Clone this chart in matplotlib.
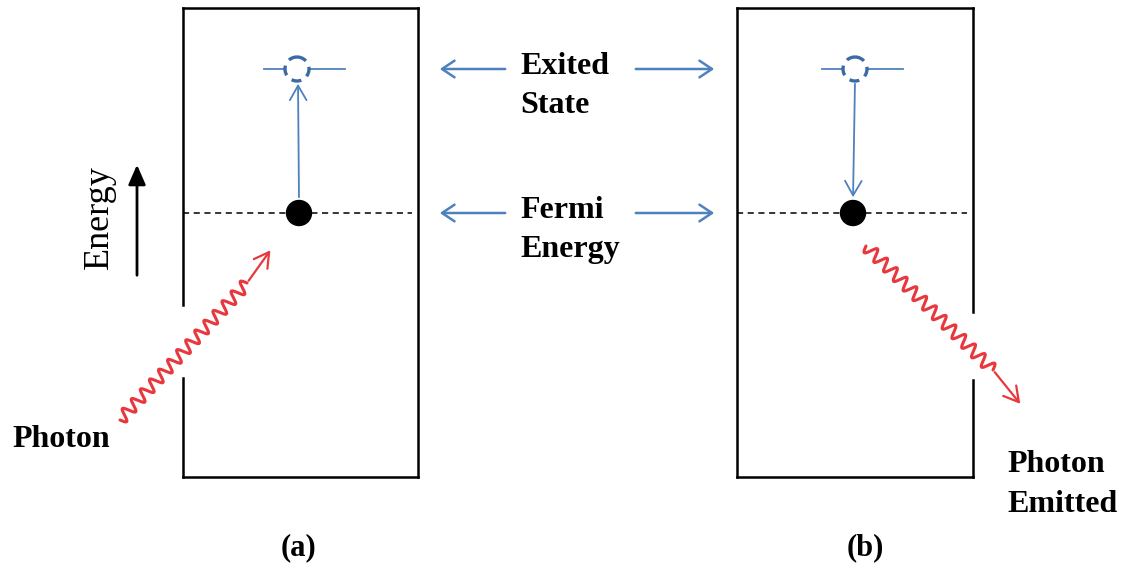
import numpy as np
import matplotlib.pyplot as plt
from matplotlib.patches import Circle, FancyArrowPatch

# ---- diagram content ----
panel_labels = ["(a)", "(b)"]
box_left = [183, 737]
box_right = [418, 973]
box_top = 8
box_bottom = 477
fermi_y = 213
excited_y = 69
electron_x = [299, 853]
excited_x = [297, 855]
middle_texts = [["Exited", "State"], ["Fermi", "Energy"]]
middle_y = [69, 213]
photon_in_label = "Photon"
photon_out_label = ["Photon", "Emitted"]
energy_label = "Energy"

BLUE = "#4F81BD"
DBLUE = "#3A6BA5"
RED = "#E8383D"
SERIF = ["Liberation Serif", "DejaVu Serif"]

fig = plt.figure(figsize=(11.25, 5.78), dpi=100)
ax = fig.add_axes([0, 0, 1, 1])
ax.set_xlim(0, 1125)
ax.set_ylim(578, 0)
ax.axis("off")

# boxes (with gaps where the photon passes)
def box(xl, xr, gap_side, gap):
    ax.plot([xl, xr], [box_top, box_top], color="black", lw=1.8)
    ax.plot([xl, xr], [box_bottom, box_bottom], color="black", lw=1.8)
    for side, x in (("l", xl), ("r", xr)):
        if side == gap_side:
            ax.plot([x, x], [box_top, gap[0]], color="black", lw=1.8)
            ax.plot([x, x], [gap[1], box_bottom], color="black", lw=1.8)
        else:
            ax.plot([x, x], [box_top, box_bottom], color="black", lw=1.8)

box(box_left[0], box_right[0], "l", (305, 378))
box(box_left[1], box_right[1], "r", (312, 380))

for i in range(2):
    # Fermi dashed line
    ax.plot([box_left[i], box_right[i] - 6], [fermi_y, fermi_y], color="black",
            lw=1.1, ls=(0, (4, 3)))
    # electron
    ax.add_patch(Circle((electron_x[i], fermi_y), 12.5, color="black", zorder=5))
    # excited state
    ex = excited_x[i]
    ax.add_patch(Circle((ex, excited_y), 12, fill=False, ec=DBLUE, lw=2.4,
                        ls=(0, (3, 2)), zorder=5))
    ax.plot([ex - 33, ex - 12], [excited_y, excited_y], color=BLUE, lw=1.3)
    ax.plot([ex + 12, ex + 48], [excited_y, excited_y], color=BLUE, lw=1.3)
    ax.text(298 if i == 0 else 865, 548, panel_labels[i], ha="center", va="center",
            fontsize=22, fontweight="bold", family=SERIF)

# transition arrows
ax.add_patch(FancyArrowPatch((299, 200), (298, 81), arrowstyle="->,head_length=7,head_width=4",
                             color=BLUE, lw=1.3, mutation_scale=1.5))
ax.add_patch(FancyArrowPatch((855, 81), (853, 200), arrowstyle="->,head_length=7,head_width=4",
                             color=BLUE, lw=1.3, mutation_scale=1.5))

# middle labels and pointer arrows
for lines, y in zip(middle_texts, middle_y):
    ax.text(520, y + 5, lines[0], ha="left", va="baseline", fontsize=23, family=SERIF,
            fontweight="bold")
    ax.text(520, y + 44, lines[1], ha="left", va="baseline", fontsize=23, family=SERIF,
            fontweight="bold")
    ax.add_patch(FancyArrowPatch((508, y), (437, y), arrowstyle="->,head_length=6,head_width=4",
                                 color=BLUE, lw=1.8, mutation_scale=1.5))
    ax.add_patch(FancyArrowPatch((633, y), (717, y), arrowstyle="->,head_length=6,head_width=4",
                                 color=BLUE, lw=1.8, mutation_scale=1.5))

# Energy axis label
ax.text(99, 217, energy_label, rotation=90, ha="center", va="center", fontsize=26,
        family=SERIF)
ax.add_patch(FancyArrowPatch((137, 278), (137, 162), arrowstyle="-|>,head_length=8,head_width=3.5",
                             color="black", lw=2.0, mutation_scale=1.5))

# wavy photons
def photon(p0, p1, tip, ncyc, amp=6.0):
    p0 = np.array(p0, float); p1 = np.array(p1, float)
    d = p1 - p0
    L = np.hypot(*d)
    u = d / L
    n = np.array([-u[1], u[0]])
    s = np.linspace(0, L, 800)
    w = amp * np.sin(2 * np.pi * ncyc * s / L)
    pts = p0[None, :] + s[:, None] * u[None, :] + w[:, None] * n[None, :]
    ax.plot(pts[:, 0], pts[:, 1], color=RED, lw=2.2, solid_capstyle="round")
    ax.add_patch(FancyArrowPatch(tuple(p1), tip, arrowstyle="->,head_length=7,head_width=4",
                                 color=RED, lw=1.6, mutation_scale=1.5))

photon((120, 420), (247, 283), (272, 248), 14)
photon((866, 246), (993, 370), (1022, 406), 13)

ax.text(12, 447, photon_in_label, ha="left", va="baseline", fontsize=23,
        fontweight="bold", family=SERIF)
ax.text(1007, 472, photon_out_label[0], ha="left", va="baseline", fontsize=23,
        fontweight="bold", family=SERIF)
ax.text(1007, 512, photon_out_label[1], ha="left", va="baseline", fontsize=23,
        fontweight="bold", family=SERIF)

fig.savefig("out.png", dpi=100, facecolor="white")
